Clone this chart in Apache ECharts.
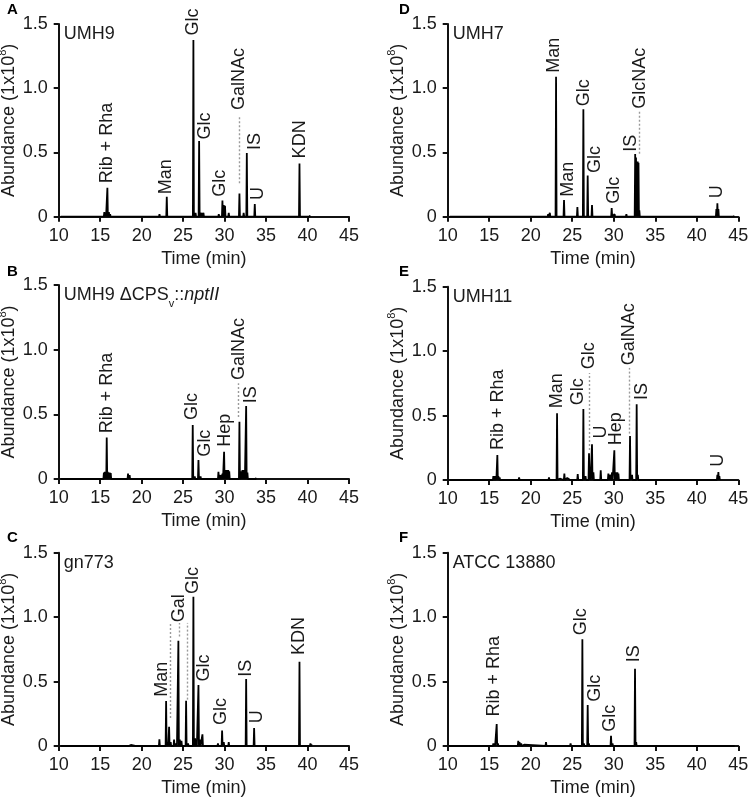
<!DOCTYPE html>
<html>
<head>
<meta charset="utf-8">
<script src="https://cdn.jsdelivr.net/npm/echarts@6/dist/echarts.min.js"></script>
<style>html,body{margin:0;padding:0;background:#fff}#c{width:750px;height:798px}</style>
</head>
<body>
<div id="c"></div>
<script>
// ---- data: peaks [time(min), abundance(1e8)] ----
const peaksA = [[10.3,0.01],[15.5,0.035],[15.65,0.03],[15.87,0.226],[16.05,0.035],[16.2,0.02],[18.5,0.008],[20.5,0.006],[22.15,0.02],[23.03,0.156],[23.5,0.012],[23.9,0.01],[24.85,0.015],[26.24,1.375],[26.5,0.03],[26.93,0.589],[27.2,0.03],[27.45,0.03],[29.3,0.02],[29.74,0.125],[29.9,0.09],[30.05,0.085],[30.5,0.03],[31.79,0.18],[32.3,0.03],[32.68,0.496],[33.64,0.099],[34.2,0.008],[39.03,0.415],[40.3,0.01]];
const peaksB = [[10.3,0.008],[15.45,0.05],[15.57,0.055],[15.68,0.055],[15.79,0.32],[15.91,0.055],[16.03,0.05],[16.15,0.05],[16.27,0.045],[18.36,0.041],[18.55,0.03],[18.8,0.015],[20.1,0.01],[21.8,0.012],[22.5,0.008],[23.5,0.008],[24.9,0.01],[26.16,0.418],[26.4,0.02],[26.85,0.147],[27.1,0.02],[29.26,0.055],[29.5,0.03],[29.75,0.04],[29.94,0.211],[30.08,0.07],[30.2,0.07],[30.32,0.07],[30.44,0.07],[30.56,0.06],[31.0,0.01],[31.79,0.443],[32.03,0.06],[32.15,0.07],[32.27,0.07],[32.39,0.07],[32.6,0.564],[32.75,0.05],[33.2,0.01],[33.8,0.01]];
const peaksC = [[10.3,0.012],[10.6,0.008],[18.5,0.01],[18.7,0.008],[19.3,0.005],[22.14,0.052],[22.95,0.349],[23.15,0.03],[23.31,0.15],[23.5,0.03],[23.91,0.05],[24.2,0.02],[24.43,0.817],[24.6,0.05],[24.8,0.04],[25.36,0.352],[25.6,0.02],[26.24,1.159],[26.45,0.06],[26.6,0.03],[26.85,0.473],[27.05,0.05],[27.33,0.09],[29.2,0.02],[29.7,0.12],[29.9,0.03],[30.5,0.03],[31.5,0.008],[32.6,0.52],[33.56,0.14],[38.7,0.008],[39.03,0.654],[40.35,0.02],[40.5,0.015]];
const peaksD = [[10.3,0.008],[15.9,0.01],[18.6,0.006],[22.1,0.02],[22.3,0.03],[23.05,1.09],[24.01,0.13],[24.5,0.01],[25.62,0.075],[26.34,0.836],[26.86,0.32],[27.38,0.09],[29.2,0.01],[29.75,0.067],[30.1,0.02],[31.52,0.02],[32.58,0.488],[32.68,0.46],[32.78,0.43],[32.88,0.43],[32.98,0.42],[33.08,0.05],[34.0,0.01],[35.2,0.012],[42.36,0.06],[42.48,0.104],[42.6,0.06],[44.5,0.008]];
const peaksE = [[10.3,0.008],[15.5,0.03],[15.65,0.03],[15.8,0.03],[15.98,0.194],[16.1,0.03],[16.25,0.02],[18.6,0.02],[18.8,0.01],[20.5,0.006],[22.2,0.02],[23.17,0.517],[23.5,0.01],[24.05,0.05],[24.4,0.015],[24.8,0.015],[25.66,0.045],[26.34,0.55],[26.6,0.03],[27.02,0.207],[27.15,0.1],[27.38,0.277],[27.55,0.06],[28.43,0.075],[29.35,0.05],[29.6,0.04],[29.8,0.06],[30.07,0.23],[30.2,0.06],[30.32,0.06],[30.44,0.06],[30.56,0.05],[31.2,0.01],[31.96,0.341],[32.2,0.04],[32.76,0.587],[32.9,0.04],[33.3,0.015],[33.7,0.015],[34.1,0.01],[42.48,0.04],[42.6,0.062],[42.72,0.03]];
const peaksF = [[10.2,0.012],[10.5,0.006],[15.5,0.02],[15.65,0.02],[15.9,0.171],[16.05,0.02],[18.5,0.041],[18.65,0.03],[18.85,0.02],[19.2,0.01],[21.84,0.03],[22.0,0.015],[23.5,0.005],[24.8,0.02],[26.22,0.828],[26.4,0.02],[26.86,0.318],[27.0,0.02],[29.3,0.01],[29.67,0.08],[29.85,0.02],[31.5,0.008],[32.56,0.6],[32.7,0.03],[33.5,0.01],[34.0,0.01],[44.5,0.006]];

// ---- peak labels [time, abundance at label start, text] ----
const labelsA = [[15.86,0.26,'Rib + Rha'],[22.93,0.175,'Man'],[26.22,1.41,'Glc'],[27.66,0.6,'Glc'],[29.43,0.156,'Glc'],[31.76,0.83,'GalNAc'],[33.65,0.52,'IS'],[34.05,0.13,'U'],[39.07,0.454,'KDN']];
const labelsB = [[15.86,0.353,'Rib + Rha'],[26.02,0.456,'Glc'],[27.62,0.173,'Glc'],[30.0,0.25,'Hep'],[31.76,0.765,'GalNAc'],[33.2,0.585,'IS']];
const labelsC = [[22.49,0.383,'Man'],[24.49,0.96,'Gal'],[26.14,1.18,'Glc'],[27.5,0.5,'Glc'],[29.63,0.163,'Glc'],[32.64,0.538,'IS'],[33.97,0.176,'U'],[38.98,0.706,'KDN']];
const labelsD = [[22.85,1.12,'Man'],[24.53,0.156,'Man'],[26.42,0.86,'Glc'],[27.74,0.34,'Glc'],[29.99,0.10,'Glc'],[32.08,0.506,'IS'],[33.22,0.84,'GlcNAc'],[42.48,0.143,'U']];
const labelsE = [[16.02,0.233,'Rib + Rha'],[23.13,0.556,'Man'],[25.74,0.58,'Glc'],[27.0,0.86,'Glc'],[28.43,0.323,'U'],[30.23,0.27,'Hep'],[31.8,0.89,'GalNAc'],[33.36,0.62,'IS'],[42.6,0.103,'U']];
const labelsF = [[15.58,0.228,'Rib + Rha'],[26.06,0.86,'Glc'],[27.74,0.344,'Glc'],[29.59,0.111,'Glc'],[32.48,0.65,'IS']];

// ---- dotted guide lines [time, from, to] ----
const dotsA = [[31.76,0.26,0.79]];
const dotsB = [[31.68,0.48,0.74]];
const dotsC = [[23.5,0.217,0.955],[24.52,0.85,0.955],[25.52,0.36,0.955]];
const dotsD = [[33.04,0.49,0.82]];
const dotsE = [[27.0,0.233,0.83],[31.84,0.36,0.87]];
const dotsF = [];

const xTicks = [10,15,20,25,30,35,40,45];
const yTicks = [0,0.5,1.0,1.5];

const panels = [
  {letter:'A', strain:'UMH9', peaks:peaksA, labels:labelsA, dots:dotsA, grid:{left:58.7, top:24, width:290.3, height:192.7}},
  {letter:'B', strain:'UMH9 ΔCPS{sub|v}::{it|nptII}', peaks:peaksB, labels:labelsB, dots:dotsB, grid:{left:58.7, top:285, width:290.3, height:194}},
  {letter:'C', strain:'gn773', peaks:peaksC, labels:labelsC, dots:dotsC, grid:{left:58.7, top:552.7, width:290.3, height:193.3}},
  {letter:'D', strain:'UMH7', peaks:peaksD, labels:labelsD, dots:dotsD, grid:{left:447.7, top:24, width:290.6, height:192.7}},
  {letter:'E', strain:'UMH11', peaks:peaksE, labels:labelsE, dots:dotsE, grid:{left:447.7, top:286.7, width:290.6, height:193.3}},
  {letter:'F', strain:'ATCC 13880', peaks:peaksF, labels:labelsF, dots:dotsF, grid:{left:447.7, top:552.7, width:290.6, height:193.3}}
];

function buildTrace(peaks){
  const w = 0.06;
  const d = [];
  peaks.forEach(function(p,i){
    const t=p[0], h=p[1];
    const prev = i>0 ? peaks[i-1][0] : xTicks[0];
    const next = i<peaks.length-1 ? peaks[i+1][0] : xTicks[xTicks.length-1];
    const l = Math.max(t-w,(t+prev)/2), r = Math.min(t+w,(t+next)/2);
    d.push([l,0],[t,h],[r,0]);
  });
  return d;
}

const FONT = '"Liberation Sans", Arial, Helvetica, sans-serif';
const TXT = '#1a1a1a';
const FS = 18;
const grids=[], xAxes=[], yAxes=[], series=[], graphics=[];

panels.forEach(function(p,i){
  grids.push(Object.assign({containLabel:false, outerBoundsMode:'none'}, p.grid));
  const axLine = {show:true, onZero:false, lineStyle:{color:'#111', width:2}};
  const axTick = {show:true, length:5, lineStyle:{color:'#111', width:2}};
  xAxes.push({gridIndex:i, type:'value', min:xTicks[0], max:xTicks[xTicks.length-1], interval:5,
    axisLine:axLine, axisTick:axTick, splitLine:{show:false},
    axisLabel:{fontSize:FS, color:TXT, fontFamily:FONT, margin:10},
    name:'Time (min)', nameLocation:'middle', nameGap:33, nameMoveOverlap:false,
    nameTextStyle:{fontSize:FS, color:TXT, fontFamily:FONT}});
  yAxes.push({gridIndex:i, type:'value', min:yTicks[0], max:yTicks[yTicks.length-1], interval:0.5,
    axisLine:axLine, axisTick:axTick, splitLine:{show:false},
    axisLabel:{fontSize:FS, color:TXT, fontFamily:FONT, margin:11, formatter:function(v){return v===0?'0':v.toFixed(1);}},
    name:'Abundance (1x10{sup|8})', nameLocation:'middle', nameGap:39, nameMoveOverlap:false,
    nameTextStyle:{fontSize:FS, color:TXT, fontFamily:FONT, lineHeight:22,
      rich:{sup:{fontSize:11, color:TXT, fontFamily:FONT, verticalAlign:'top', lineHeight:12}}}});
  series.push({type:'line', xAxisIndex:i, yAxisIndex:i, data:buildTrace(p.peaks), showSymbol:false, symbol:'none',
    lineStyle:{color:'#000', width:1.8, join:'bevel', cap:'butt'}, animation:false, clip:true,
    markLine:{silent:true, symbol:'none', animation:false, label:{show:false},
      lineStyle:{type:[2,2], color:'#9a9a9a', width:1.4},
      data:p.dots.map(function(d){return [{coord:[d[0],d[1]]},{coord:[d[0],d[2]]}];})}});
  series.push({type:'scatter', xAxisIndex:i, yAxisIndex:i, data:p.labels, symbolSize:0, animation:false, silent:true,
    itemStyle:{opacity:1},
    label:{show:true, position:'inside', rotate:90, align:'left', verticalAlign:'middle', opacity:1,
      formatter:function(q){return q.data[2];}, fontSize:FS, color:TXT, fontFamily:FONT,
      textBorderWidth:0, textBorderColor:'transparent'}});
  graphics.push({type:'text', left:(p.grid.left<100?7:399), top:(p.grid.top<100?2:(p.grid.top<400?264:530)),
    style:{text:p.letter, fontSize:15, fontWeight:'bold', fill:'#000', fontFamily:FONT}});
  graphics.push({type:'text', x:p.grid.left+5, y:p.grid.top+10,
    style:{text:p.strain, fontSize:FS, fill:TXT, fontFamily:FONT, verticalAlign:'middle', lineHeight:28,
      rich:{sub:{fontSize:11, fill:TXT, fontFamily:FONT, verticalAlign:'bottom', lineHeight:12},
            it:{fontSize:FS, fill:TXT, fontFamily:FONT, fontStyle:'italic', lineHeight:28}}}});
});

const chart = echarts.init(document.getElementById('c'), null, {renderer:'canvas'});
chart.setOption({animation:false, backgroundColor:'#fff', grid:grids, xAxis:xAxes, yAxis:yAxes, series:series, graphic:graphics});
</script>
</body>
</html>
